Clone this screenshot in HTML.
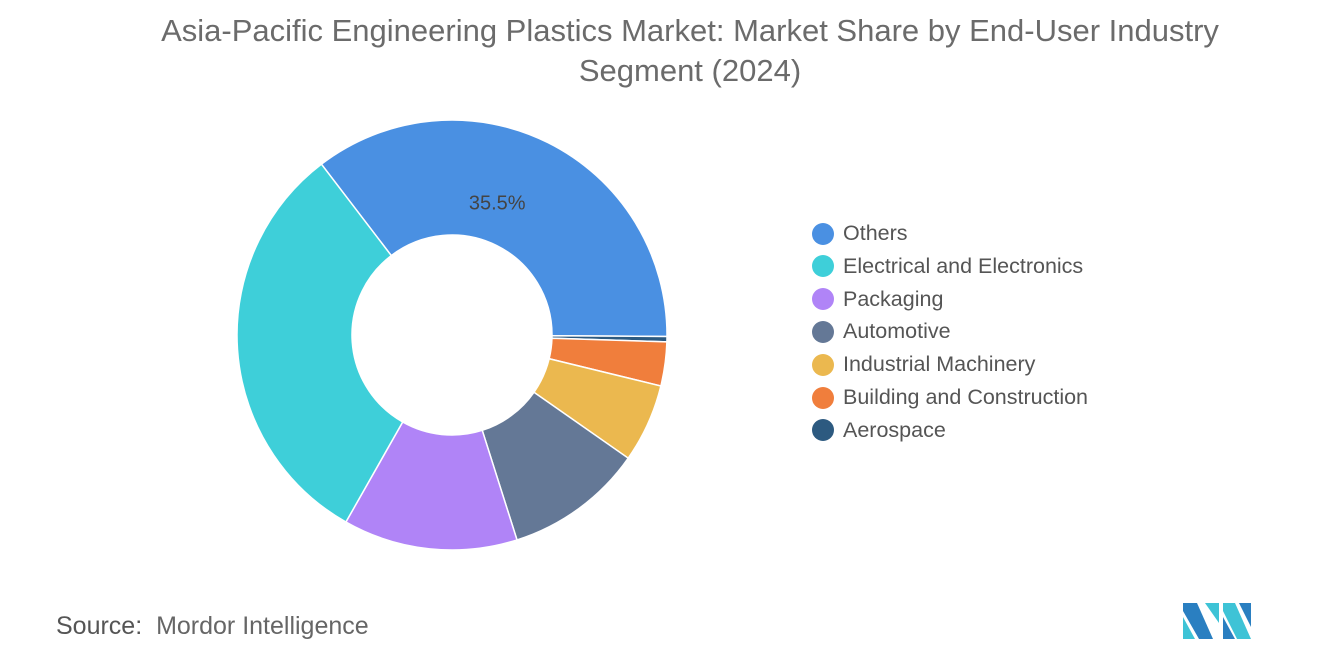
<!DOCTYPE html>
<html><head><meta charset="utf-8"><style>
body{margin:0;width:1320px;height:665px;background:#fff;font-family:"Liberation Sans",sans-serif;position:relative;overflow:hidden}
#title{position:absolute;top:11px;left:0;width:1380px;text-align:center;font-size:31px;line-height:40px;color:#6b6b6b}
.leg{position:absolute;left:812px;font-size:21.5px;color:#555;display:flex;align-items:center}
.leg span{width:22px;height:22px;border-radius:50%;display:inline-block;margin-right:9px}
#src{position:absolute;left:56px;top:612px;font-size:25px;color:#666}
</style></head><body>
<div id="title">Asia-Pacific Engineering Plastics Market: Market Share by End-User Industry<br>Segment (2024)</div>
<svg id="chart" width="1320" height="665" style="position:absolute;left:0;top:0"></svg>
<div id="legend"></div>
<div id="src"><b style="font-weight:normal;color:#555">Source:</b>&nbsp; Mordor Intelligence</div>
<svg style="position:absolute;left:1183px;top:603px" width="68" height="36">
<polygon points="0,0 14,0 30,36 16,36 0,8" fill="#2a7fc1"/><polygon points="0,14 12,36 0,36" fill="#3ec3d6"/>
<polygon points="22,0 36,0 36,20" fill="#3ec3d6"/><polygon points="40,0 52,0 68,36 54,36 40,8" fill="#3ec3d6"/>
<polygon points="40,14 52,36 40,36" fill="#2a7fc1"/><polygon points="56,0 68,0 68,24" fill="#2a7fc1"/>
</svg>
<script>
const categories=["Others","Electrical and Electronics","Packaging","Automotive","Industrial Machinery","Building and Construction","Aerospace"];
const values=[35.5,31.4,13.1,10.4,5.9,3.3,0.4];
const colors=["#4a90e2","#3ecfd9","#b084f7","#647896","#ebb84f","#f07e3c","#2d5a80"];
const svg=document.getElementById('chart');
const cx=452,cy=335,R=215,r=100,NS="http://www.w3.org/2000/svg";
const order=[0,6,5,4,3,2,1];
const total=values.reduce((a,b)=>a+b,0);
let a=-37.4*Math.PI/180;
function pt(rad,ang){return [cx+rad*Math.sin(ang),cy-rad*Math.cos(ang)];}
order.forEach(i=>{
 const s=values[i]/total*2*Math.PI,b=a+s,l=s>Math.PI?1:0;
 const p1=pt(R,a),p2=pt(R,b),p3=pt(r,b),p4=pt(r,a);
 const p=document.createElementNS(NS,'path');
 p.setAttribute('d',`M${p1}L${p1}A${R},${R} 0 ${l} 1 ${p2}L${p3}A${r},${r} 0 ${l} 0 ${p4}Z`);
 p.setAttribute('fill',colors[i]);p.setAttribute('stroke','#fff');p.setAttribute('stroke-width','1.5');
 
 
 svg.appendChild(p);
 if(i===0){const m=pt(140,a+s*0.44);const t=document.createElementNS(NS,'text');
  t.setAttribute('x',m[0]);t.setAttribute('y',m[1]+7);t.setAttribute('text-anchor','middle');
  t.setAttribute('font-size','20');t.setAttribute('fill','#444');t.textContent=values[i]+'%';
  
  
  svg.appendChild(t);}
 a=b;
});
const lg=document.getElementById('legend');
categories.forEach((c,i)=>{
 const d=document.createElement('div');d.className='leg';d.style.top=(221+i*32.8)+'px';
 d.innerHTML=`<span style="background:${colors[i]}"></span>${c}`;
 
 
 lg.appendChild(d);
});
</script>
</body></html>
